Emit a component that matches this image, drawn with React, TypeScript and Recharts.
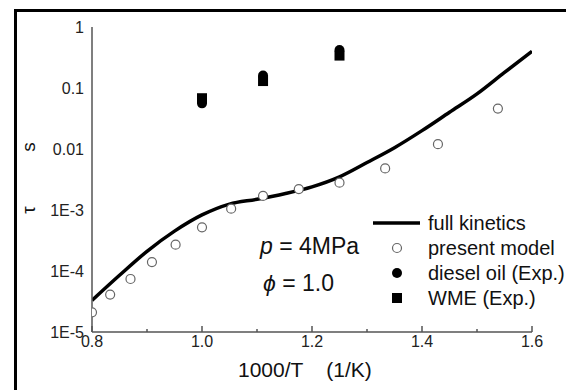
import { ComposedChart, Line, Scatter, XAxis, YAxis } from 'recharts'

// full kinetics curve
const kineticsX = [0.8, 0.85, 0.9, 0.95, 1.0, 1.05, 1.1, 1.15, 1.2, 1.25, 1.3, 1.35, 1.4, 1.45, 1.5, 1.55, 1.6]
const kineticsTau = [3.3e-5, 8.5e-5, 2.1e-4, 4.5e-4, 8.3e-4, 1.25e-3, 1.5e-3, 1.85e-3, 2.4e-3, 3.5e-3, 6.0e-3, 1.05e-2, 0.02, 0.04, 0.08, 0.18, 0.4]

// present model (open circles)
const modelX = [0.8, 0.833, 0.87, 0.909, 0.952, 1.0, 1.053, 1.111, 1.176, 1.25, 1.333, 1.429, 1.538]
const modelTau = [2.1e-5, 4.1e-5, 7.4e-5, 1.4e-4, 2.7e-4, 5.2e-4, 1.05e-3, 1.7e-3, 2.2e-3, 2.8e-3, 4.8e-3, 0.012, 0.046]

// experiments
const expX = [1.0, 1.111, 1.25]
const dieselTau = [0.056, 0.16, 0.42]
const wmeTau = [0.068, 0.13, 0.34]

const xTicks = [0.8, 0.9, 1.0, 1.1, 1.2, 1.3, 1.4, 1.5, 1.6]
const xTickLabels = ['0.8', '', '1.0', '', '1.2', '', '1.4', '', '1.6']
const yTicks = [1e-5, 1e-4, 1e-3, 0.01, 0.1, 1]
const yTickLabels = ['1E-5', '1E-4', '1E-3', '0.01', '0.1', '1']
const legendLabels = ['full kinetics', 'present model', 'diesel oil (Exp.)', 'WME (Exp.)']

const FONT = '"Liberation Sans", Arial, sans-serif'
const AXIS = '#555'

const kinetics = kineticsX.map((x, i) => ({ x, tau: kineticsTau[i] }))
const model = modelX.map((x, i) => ({ x, tau: modelTau[i] }))
const diesel = expX.map((x, i) => ({ x, tau: dieselTau[i] }))
const wme = expX.map((x, i) => ({ x, tau: wmeTau[i] }))

function XTick({ x, y, payload }: any) {
  const i = xTicks.indexOf(payload.value)
  const label = xTickLabels[i] ?? ''
  return (
    <g>
      <line x1={x} x2={x} y1={y} y2={y - (label ? 6 : 3)} stroke={AXIS} strokeWidth={1.5} />
      {label && (
        <text x={x} y={y + 15} textAnchor="middle" fontSize={16} fill="#222" fontFamily={FONT}>
          {label}
        </text>
      )}
    </g>
  )
}

function YTick({ x, y, payload }: any) {
  const i = yTicks.indexOf(payload.value)
  return (
    <text x={x} y={y} dy="0.35em" textAnchor="end" fontSize={16} fill="#222" fontFamily={FONT}>
      {yTickLabels[i]}
    </text>
  )
}

const openCircle = ({ cx, cy }: any) => <circle cx={cx} cy={cy} r={4.5} fill="#fff" stroke="#666" strokeWidth={1.2} />
const filledCircle = ({ cx, cy }: any) => <circle cx={cx} cy={cy} r={5} fill="#000" />
const filledSquare = ({ cx, cy }: any) => <rect x={cx - 5} y={cy - 5} width={10} height={10} fill="#000" />

function LegendMarker({ index }: { index: number }) {
  return (
    <svg width={50} height={14} style={{ position: 'absolute', left: 372, top: -7 }}>
      {index === 0 && <line x1={1} x2={48} y1={7} y2={7} stroke="#000" strokeWidth={3.5} />}
      {index === 1 && <circle cx={25} cy={7} r={4.5} fill="#fff" stroke="#666" strokeWidth={1.2} />}
      {index === 2 && <circle cx={25} cy={7} r={5} fill="#000" />}
      {index === 3 && <rect x={20} y={2} width={10} height={10} fill="#000" />}
    </svg>
  )
}

const abs = (left: number, top: number, size: number): React.CSSProperties => ({
  position: 'absolute',
  left,
  top,
  fontSize: size,
  lineHeight: 1,
  transform: 'translateY(-50%)',
  whiteSpace: 'pre',
  color: '#111',
})

export default function App() {
  return (
    <div style={{ position: 'absolute', left: 0, top: 0, width: 566, height: 390, background: '#fff', fontFamily: FONT, overflow: 'hidden' }}>
      <div
        style={{
          position: 'absolute',
          left: 14,
          top: 9,
          width: 600,
          height: 400,
          borderLeft: '3px solid #000',
          borderTop: '3px solid #000',
        }}
      />
      <ComposedChart width={566} height={390} margin={{ top: 27, right: 34, bottom: 0, left: 0 }}>
        <XAxis
          type="number"
          dataKey="x"
          domain={[0.8, 1.6]}
          ticks={xTicks}
          allowDataOverflow
          tickSize={0}
          tickMargin={0}
          tickLine={false}
          tick={<XTick />}
          axisLine={{ stroke: AXIS, strokeWidth: 1.5 }}
          height={58}
          interval={0}
        />
        <YAxis
          type="number"
          dataKey="tau"
          scale="log"
          domain={[1e-5, 1]}
          ticks={yTicks}
          allowDataOverflow
          tickSize={0}
          tickMargin={8}
          tickLine={false}
          tick={<YTick />}
          axisLine={{ stroke: AXIS, strokeWidth: 1.5 }}
          width={92}
          interval={0}
        />
        <Line data={kinetics} dataKey="tau" type="monotone" stroke="#000" strokeWidth={3.5} dot={false} isAnimationActive={false} />
        <Scatter data={model} dataKey="tau" shape={openCircle} isAnimationActive={false} />
        <Scatter data={wme} dataKey="tau" shape={filledSquare} isAnimationActive={false} />
        <Scatter data={diesel} dataKey="tau" shape={filledCircle} isAnimationActive={false} />
      </ComposedChart>

      <div style={{ ...abs(24, 147, 19), transform: 'translateY(-50%) rotate(-90deg)' }}>s</div>
      <div style={{ ...abs(25, 210, 19), transform: 'translateY(-50%) rotate(-90deg)' }}>τ</div>
      <div style={{ ...abs(238, 369, 21) }}>{'1000/T    (1/K)'}</div>

      <div style={abs(260, 246, 23)}>
        <i>p</i> = 4MPa
      </div>
      <div style={abs(263, 283, 23)}>
        <i>ϕ</i> = 1.0
      </div>

      {legendLabels.map((label, i) => (
        <div key={label} style={{ position: 'absolute', left: 0, top: 223 + i * 25 }}>
          <LegendMarker index={i} />
          <div style={abs(428, 0, 20)}>{label}</div>
        </div>
      ))}
    </div>
  )
}
